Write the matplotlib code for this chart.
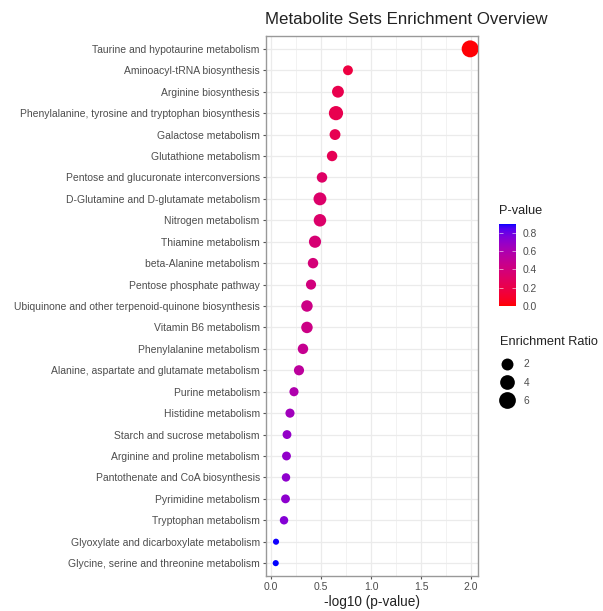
import numpy as np
import matplotlib
matplotlib.use("Agg")
import matplotlib.pyplot as plt
from matplotlib.colors import ListedColormap, Normalize
from matplotlib.lines import Line2D
from matplotlib.ticker import MultipleLocator
import matplotlib.colorbar as mcolorbar

pathways = [
    "Taurine and hypotaurine metabolism",
    "Aminoacyl-tRNA biosynthesis",
    "Arginine biosynthesis",
    "Phenylalanine, tyrosine and tryptophan biosynthesis",
    "Galactose metabolism",
    "Glutathione metabolism",
    "Pentose and glucuronate interconversions",
    "D-Glutamine and D-glutamate metabolism",
    "Nitrogen metabolism",
    "Thiamine metabolism",
    "beta-Alanine metabolism",
    "Pentose phosphate pathway",
    "Ubiquinone and other terpenoid-quinone biosynthesis",
    "Vitamin B6 metabolism",
    "Phenylalanine metabolism",
    "Alanine, aspartate and glutamate metabolism",
    "Purine metabolism",
    "Histidine metabolism",
    "Starch and sucrose metabolism",
    "Arginine and proline metabolism",
    "Pantothenate and CoA biosynthesis",
    "Pyrimidine metabolism",
    "Tryptophan metabolism",
    "Glyoxylate and dicarboxylate metabolism",
    "Glycine, serine and threonine metabolism",
]
p_values = [0.0102, 0.170, 0.214, 0.224, 0.229, 0.245, 0.309, 0.324, 0.324,
            0.363, 0.380, 0.398, 0.437, 0.437, 0.479, 0.525, 0.589, 0.646,
            0.692, 0.700, 0.708, 0.716, 0.741, 0.891, 0.897]
enrichment = [6.2, 1.01, 1.97, 3.6, 1.44, 1.25, 1.25, 2.61, 2.35,
              2.15, 1.25, 1.12, 1.75, 1.75, 1.25, 1.12, 0.76, 0.76,
              0.68, 0.68, 0.57, 0.68, 0.57, 0.30, 0.30]
size_breaks = [2, 4, 6]
x_ticks = [0.0, 0.5, 1.0, 1.5, 2.0]
cbar_ticks = [0.0, 0.2, 0.4, 0.6, 0.8]

FONT = "Liberation Sans"
plt.rcParams["font.family"] = [FONT, "DejaVu Sans"]
TXT = "#4d4d4d"


# red -> blue gradient interpolated in CIELAB (like ggplot's colour ramp)
def srgb_to_lab(rgb):
    rgb = np.asarray(rgb, float)
    lin = np.where(rgb <= 0.04045, rgb / 12.92, ((rgb + 0.055) / 1.055) ** 2.4)
    m = np.array([[0.4124, 0.3576, 0.1805],
                  [0.2126, 0.7152, 0.0722],
                  [0.0193, 0.1192, 0.9505]])
    xyz = m @ lin / np.array([0.95047, 1.0, 1.08883])
    f = np.where(xyz > 0.008856, np.cbrt(xyz), 7.787 * xyz + 16 / 116)
    return np.array([116 * f[1] - 16, 500 * (f[0] - f[1]), 200 * (f[1] - f[2])])


def lab_to_srgb(lab):
    L, a, b = lab
    fy = (L + 16) / 116
    fx = fy + a / 500
    fz = fy - b / 200
    f = np.array([fx, fy, fz])
    xyz = np.where(f ** 3 > 0.008856, f ** 3, (f - 16 / 116) / 7.787)
    xyz = xyz * np.array([0.95047, 1.0, 1.08883])
    minv = np.array([[3.2406, -1.5372, -0.4986],
                     [-0.9689, 1.8758, 0.0415],
                     [0.0557, -0.2040, 1.0570]])
    lin = np.clip(minv @ xyz, 0, 1)
    rgb = np.where(lin <= 0.0031308, 12.92 * lin, 1.055 * lin ** (1 / 2.4) - 0.055)
    return np.clip(rgb, 0, 1)


lab_lo = srgb_to_lab([1, 0, 0])
lab_hi = srgb_to_lab([0, 0, 1])
ramp = [lab_to_srgb(lab_lo + t * (lab_hi - lab_lo)) for t in np.linspace(0, 1, 256)]
cmap = ListedColormap(ramp)
norm = Normalize(vmin=0.0, vmax=max(p_values))

# point size: diameter grows with sqrt of rescaled ratio
D_MIN, D_MAX = 4.4, 12.2  # points
r_lo, r_hi = min(enrichment), max(enrichment)


def dot_diam(r):
    return D_MIN + (D_MAX - D_MIN) * np.sqrt((np.asarray(r) - r_lo) / (r_hi - r_lo))


x = -np.log10(np.array(p_values))
y = np.arange(len(pathways))

fig = plt.figure(figsize=(6.03, 6.11), dpi=100)
ax = fig.add_axes([266 / 603, 1 - 576 / 611, 212 / 603, 540 / 611])

ax.scatter(x, y, s=dot_diam(enrichment) ** 2, c=p_values, cmap=cmap, norm=norm,
           linewidths=0, zorder=3)

ax.set_xlim(-0.05, 2.07)
ax.set_ylim(len(pathways) - 0.4, -0.6)
ax.set_yticks(y)
ax.set_yticklabels(pathways)
ax.set_xticks(x_ticks)
ax.set_xticklabels([f"{v:.1f}" for v in x_ticks])
ax.xaxis.set_minor_locator(MultipleLocator(0.25))

ax.grid(True, which="major", color="#ebebeb", linewidth=0.9, zorder=0)
ax.grid(True, which="minor", axis="x", color="#ebebeb", linewidth=0.45, zorder=0)
ax.set_axisbelow(True)
for sp in ax.spines.values():
    sp.set_color("#999999")
    sp.set_linewidth(1.0)
ax.tick_params(axis="both", which="major", length=2.5, width=0.8, color="#555555",
               labelsize=7.5, labelcolor=TXT, pad=2)
ax.tick_params(axis="x", which="minor", length=0)

ax.set_xlabel("-log10 (p-value)", fontsize=9.8, color="#222222", labelpad=2)
fig.text(265 / 603, 1 - 20 / 611, "Metabolite Sets Enrichment Overview",
         fontsize=12.2, color="#222222", ha="left", va="center")

# colour legend
fig.text(499 / 603, 1 - 211 / 611, "P-value", fontsize=9.2, color="#222222",
         ha="left", va="center")
cax = fig.add_axes([499 / 603, 1 - 306 / 611, 17 / 603, 82 / 611])
cb = mcolorbar.ColorbarBase(cax, cmap=cmap, norm=norm, orientation="vertical")
cb.outline.set_visible(False)
cb.set_ticks(cbar_ticks)
cb.set_ticklabels([f"{v:.1f}" for v in cbar_ticks])
cax.tick_params(direction="in", color="white", length=3, width=0.4, left=True,
                right=True, labelsize=7.4, labelcolor=TXT, pad=5)

# size legend
handles = [Line2D([], [], ls="", marker="o", color="black", markeredgewidth=0,
                  markersize=float(dot_diam(b))) for b in size_breaks]
leg = fig.legend(handles, [str(b) for b in size_breaks], title="Enrichment Ratio",
                 loc="upper left", bbox_to_anchor=(493 / 603, 1 - 329 / 611),
                 frameon=False, fontsize=7.4, title_fontsize=9.2, alignment="left",
                 handlelength=1.3, handletextpad=1.0, labelspacing=0.8,
                 borderpad=0.2)
for t in leg.get_texts():
    t.set_color(TXT)
leg.get_title().set_color("#222222")
leg._legend_box.sep = 8

fig.savefig("out.png", dpi=100)
